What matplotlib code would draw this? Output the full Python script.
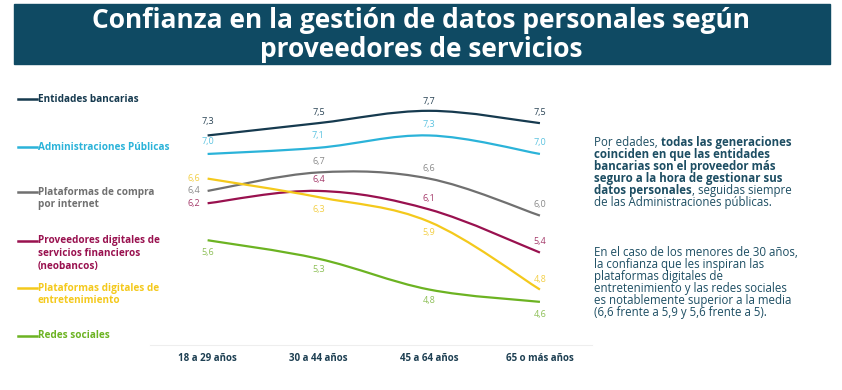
import numpy as np
import matplotlib.pyplot as plt
from matplotlib.path import Path
from matplotlib.patches import PathPatch

# Data
ages = ["18 a 29 años", "30 a 44 años", "45 a 64 años", "65 o más años"]
series_names = ["Entidades bancarias",
                "Administraciones Públicas",
                "Plataformas de compra\npor internet",
                "Proveedores digitales de\nservicios financieros\n(neobancos)",
                "Plataformas digitales de\nentretenimiento",
                "Redes sociales"]
bancos = [7.3, 7.5, 7.7, 7.5]
admin = [7.0, 7.1, 7.3, 7.0]
compra = [6.4, 6.7, 6.6, 6.0]
neobancos = [6.2, 6.4, 6.1, 5.4]
entreten = [6.6, 6.3, 5.9, 4.8]
redes = [5.6, 5.3, 4.8, 4.6]

series = [bancos, admin, compra, neobancos, entreten, redes]
colors = ["#163a4f", "#2bb3d9", "#707070", "#99114f", "#f4c91c", "#6cb322"]
label_colors = ["#2a4455", "#5cc3e0", "#8a8a8a", "#a53a6a", "#f3cf45", "#8cbf55"]
# label offsets in points (dx, dy) for each value
offsets = [[(0, 10), (0, 8), (0, 7), (0, 8)],
           [(0, 9), (0, 9), (0, 8), (0, 8)],
           [(-10, 0), (0, 8), (0, 7), (0, 8)],
           [(-10, 0), (0, 8), (0, 8), (0, 8)],
           [(-10, 0), (0, -9), (0, -8), (0, 7)],
           [(0, -9), (0, -8), (0, -8), (0, -9)]]

teal = "#0f4a63"
plt.rcParams['font.family'] = ['Open Sans', 'DejaVu Sans']

fig = plt.figure(figsize=(8.42, 3.9), dpi=100)

# title banner
fig.patches.append(plt.Rectangle((14 / 842, 1 - 64 / 390), 816 / 842, 60 / 390,
                                 transform=fig.transFigure, color=teal, zorder=0))
fig.text(0.5, 1 - 35 / 390, "Confianza en la gestión de datos personales según\nproveedores de servicios",
         ha='center', va='center', color='white', fontsize=19, fontweight='bold',
         linespacing=1.08)

ax = fig.add_axes([150 / 842, 1 - 345 / 390, 442 / 842, 265 / 390])
x = np.arange(len(ages))


def smooth_path(xs, ys, t=0.35):
    # cubic bezier through the points (catmull-rom style control points)
    verts = [(xs[0], ys[0])]
    codes = [Path.MOVETO]
    n = len(xs)
    for i in range(n - 1):
        p0 = np.array([xs[max(i - 1, 0)], ys[max(i - 1, 0)]])
        p1 = np.array([xs[i], ys[i]])
        p2 = np.array([xs[i + 1], ys[i + 1]])
        p3 = np.array([xs[min(i + 2, n - 1)], ys[min(i + 2, n - 1)]])
        c1 = p1 + (p2 - p0) * t / 2
        c2 = p2 - (p3 - p1) * t / 2
        verts += [tuple(c1), tuple(c2), tuple(p2)]
        codes += [Path.CURVE4] * 3
    return Path(verts, codes)


for vals, col, lcol, offs in zip(series, colors, label_colors, offsets):
    ax.add_patch(PathPatch(smooth_path(x, vals), facecolor='none', edgecolor=col, lw=1.6))
    for xi, v, (dx, dy) in zip(x, vals, offs):
        ax.annotate(f"{v:.1f}".replace('.', ','), (xi, v), xytext=(dx, dy),
                    textcoords='offset points', ha='center', va='center',
                    fontsize=6.5, color=lcol)

ax.set_xlim(-0.52, 3.47)
ax.set_ylim(3.9, 8.2)
ax.set_yticks([])
ax.set_xticks(x)
ax.set_xticklabels(ages, fontsize=7, fontweight='bold', color="#1d3f52")
ax.tick_params(axis='x', length=0, pad=6)
for s in ['top', 'right', 'left']:
    ax.spines[s].set_visible(False)
ax.spines['bottom'].set_color('#eeeeee')
ax.spines['bottom'].set_linewidth(0.8)

# legend on the left
leg_y = [99, 147, 192, 241, 288, 336]
for name, col, yy in zip(series_names, colors, leg_y):
    fig.add_artist(plt.Line2D([18 / 842, 37 / 842], [1 - yy / 390] * 2,
                              transform=fig.transFigure, color=col, lw=1.8))
    fig.text(38 / 842, 1 - (yy - 5.5) / 390, name, color=col, fontsize=7.2,
             fontweight='bold', va='top', ha='left', linespacing=1.2)

# right-hand text with mixed weights
text_color = "#1d4e63"
lines1 = [[("Por edades, ", 'normal'), ("todas las generaciones", 'bold')],
          [("coinciden en que las entidades", 'bold')],
          [("bancarias son el proveedor más", 'bold')],
          [("seguro a la hora de gestionar sus", 'bold')],
          [("datos personales", 'bold'), (", seguidas siempre", 'normal')],
          [("de las Administraciones públicas.", 'normal')]]
lines2 = [[("En el caso de los menores de 30 años,", 'normal')],
          [("la confianza que les inspiran las", 'normal')],
          [("plataformas digitales de", 'normal')],
          [("entretenimiento y las redes sociales", 'normal')],
          [("es notablemente superior a la media", 'normal')],
          [("(6,6 frente a 5,9 y 5,6 frente a 5).", 'normal')]]

renderer = fig.canvas.get_renderer()


def write_block(lines, y0, step=12.1):
    for k, parts in enumerate(lines):
        xpix = 594
        ypix = y0 + k * step
        for txt, w in parts:
            t = fig.text(xpix / 842, 1 - ypix / 390, txt, fontsize=8.3, fontweight=w,
                         color=text_color, va='center', ha='left')
            xpix += t.get_window_extent(renderer).width


write_block(lines1, 142)
write_block(lines2, 252)

fig.savefig("out.png", dpi=100)
